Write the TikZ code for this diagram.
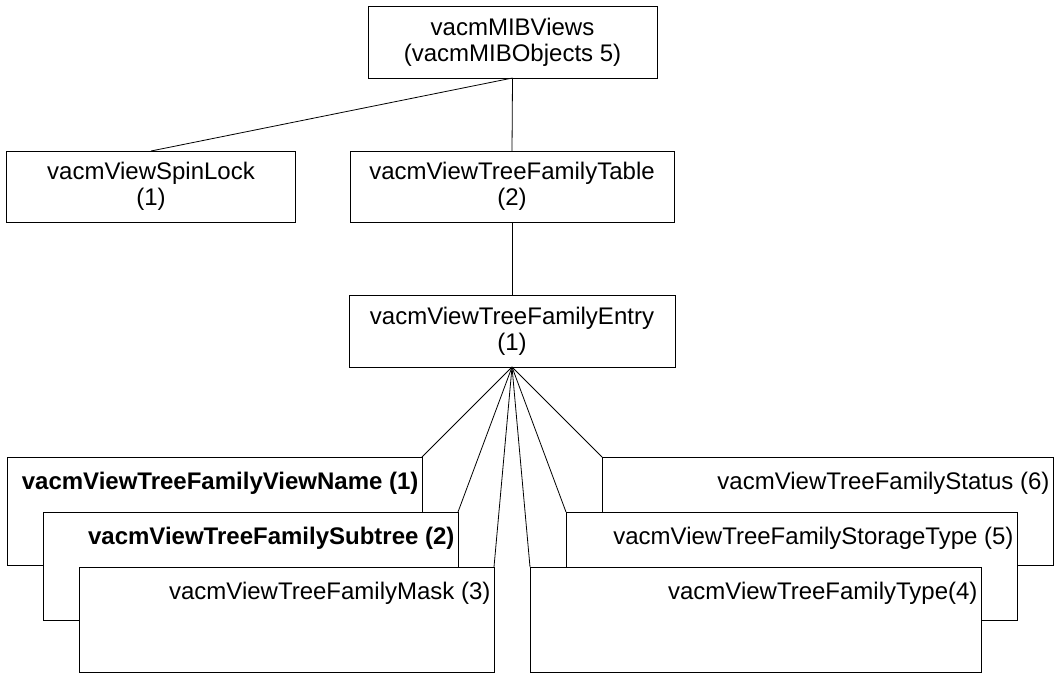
\documentclass[tikz,border=0pt]{standalone}
\usepackage{fontspec}
\setmainfont{Liberation Sans}

\begin{document}
\begin{tikzpicture}[
	x=1pt, y=-1pt,
	font=\fontsize{24}{26}\selectfont,
	every node/.style={inner sep=0pt, outer sep=0pt},
	object/.style={draw, fill=white, line width=0.9pt, align=center},
	column/.style={draw, fill=white, line width=0.9pt, minimum width=#1},
	colname/.style={anchor=east, xshift=-3.5pt, yshift=-26pt},
	branch/.style={line width=0.8pt}
	]
	\useasboundingbox (0,0) rectangle (1056,673);
	\node [object, minimum width=289pt, minimum height=72pt] (views) at (512.5,42)
		{vacmMIBViews\\(vacmMIBObjects 5)};
	\node [object, minimum width=289pt, minimum height=71pt] (spinlock) at (151,186.5)
		{vacmViewSpinLock\\(1)};
	\node [object, minimum width=324pt, minimum height=71pt] (table) at (512,186.5)
		{vacmViewTreeFamilyTable\\(2)};
	\node [object, minimum width=326pt, minimum height=72pt] (entry) at (512,331)
		{vacmViewTreeFamilyEntry\\(1)};
	\draw [branch] (views.south) -- (spinlock.north);
	\draw [branch] (views.south) -- (table.north);
	\draw [branch] (table.south) -- (entry.north);
	\coordinate (hub) at (entry.south);
	\coordinate (viewnameC) at (422,457);
	\coordinate (subtreeC) at (458,512);
	\coordinate (maskC) at (494,567);
	\coordinate (typeC) at (530,567);
	\coordinate (storageC) at (566,512);
	\coordinate (statusC) at (602,457);
	\foreach \c in {viewnameC,subtreeC,maskC,typeC,storageC,statusC}
		\draw [branch] (hub) -- (\c);
	\node [column=415pt, minimum height=108pt, anchor=north east] (viewname) at (viewnameC) {};
	\node [colname, font=\fontsize{24}{26}\selectfont\bfseries] at (viewname.north east)
		{vacmViewTreeFamilyViewName (1)};
	\node [column=415pt, minimum height=108pt, anchor=north east] (subtree) at (subtreeC) {};
	\node [colname, font=\fontsize{24}{26}\selectfont\bfseries] at (subtree.north east)
		{vacmViewTreeFamilySubtree (2)};
	\node [column=415pt, minimum height=105pt, anchor=north east] (mask) at (maskC) {};
	\node [colname] at (mask.north east) {vacmViewTreeFamilyMask (3)};
	\node [column=451pt, minimum height=108pt, anchor=north west] (status) at (statusC) {};
	\node [colname] at (status.north east) {vacmViewTreeFamilyStatus (6)};
	\node [column=451pt, minimum height=108pt, anchor=north west] (storage) at (storageC) {};
	\node [colname] at (storage.north east) {vacmViewTreeFamilyStorageType (5)};
	\node [column=451pt, minimum height=105pt, anchor=north west] (type) at (typeC) {};
	\node [colname] at (type.north east) {vacmViewTreeFamilyType(4)};
\end{tikzpicture}
\end{document}
